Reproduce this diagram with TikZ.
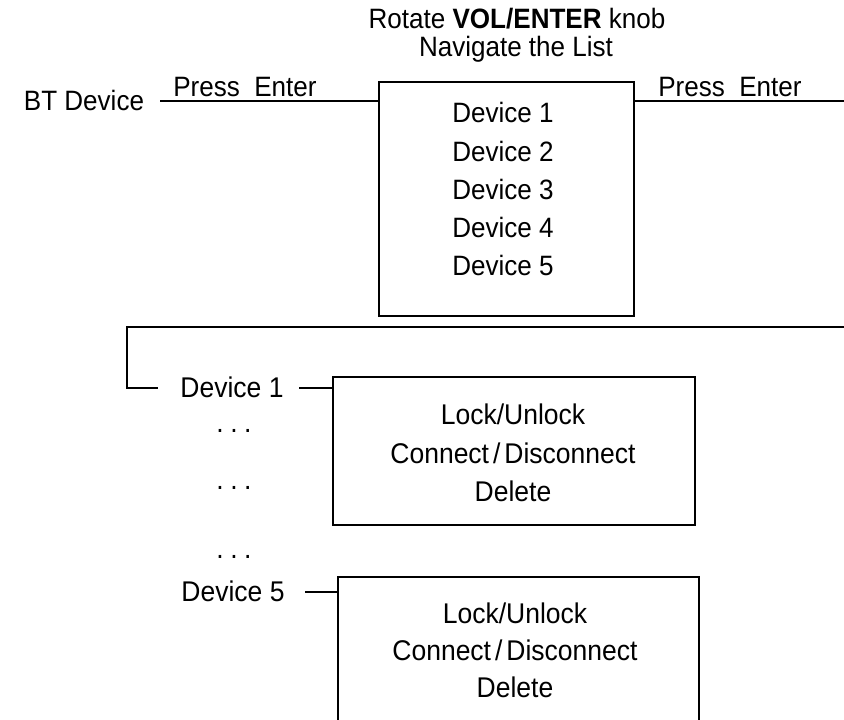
\documentclass[tikz,border=0pt]{standalone}
\usepackage{fontspec}
\setmainfont{Liberation Sans}
\newfontfamily\narrowsans[FakeStretch=0.93]{Liberation Sans}
\begin{document}
\begin{tikzpicture}[x=1pt,y=-1pt,
  txt/.style={anchor=base,inner sep=0pt,font=\narrowsans\fontsize{28}{32}\selectfont},
  ltxt/.style={anchor=base,inner sep=0pt,font=\narrowsans\fontsize{28.5}{32}\selectfont},
  boxstyle/.style={draw,line width=1.8pt,inner sep=0pt,anchor=north west},
  conn/.style={line width=1.8pt}]
\useasboundingbox (0,0) rectangle (844,720);
\clip (0,0) rectangle (844,720);
% header
\node[txt] (rot) at (517,28) {Rotate \textbf{VOL/ENTER} knob};
\node[txt] (nav) at (516,56) {Navigate the List};
\node[txt] (bt) at (84,110) {BT Device};
\node[txt] (pe1) at (245,96) {Press\ \ Enter};
\node[txt] (pe2) at (730,96) {Press\ \ Enter};
% main list box
\node[boxstyle,minimum width=255pt,minimum height=234pt] (box1) at (378,81) {};
\node[txt] (d1) at (503,122) {Device 1};
\node[txt] (d2) at (503,161) {Device 2};
\node[txt] (d3) at (503,199) {Device 3};
\node[txt] (d4) at (503,237) {Device 4};
\node[txt] (d5) at (503,275) {Device 5};
\coordinate (btl) at (160,101);
\coordinate (rend) at (846,101);
\draw[conn] (btl) -- (btl -| box1.west);
\draw[conn] (rend -| box1.east) -- (rend);
% lower part
\coordinate (r2) at (846,327);
\coordinate (c2) at (127,327);
\coordinate (c3) at (127,388);
\coordinate (c4) at (158,388);
\draw[conn] (r2) -- (c2) -- (c3) -- (c4);
\node[ltxt] (dl1) at (232,397) {Device 1};
\node[boxstyle,minimum width=362pt,minimum height=148pt] (box2) at (332,376) {};
\coordinate (l1) at (299,388);
\draw[conn] (l1) -- (l1 -| box2.west);
\node[ltxt] (b2a) at (513,424) {Lock/Unlock};
\node[ltxt] (b2b) at (513,463) {Connect{\kern4pt}/{\kern4pt}Disconnect};
\node[ltxt] (b2c) at (513,501) {Delete};
\node[ltxt] (dot1) at (234,432) {.\kern6.5pt.\kern6.5pt.};
\node[ltxt] (dot2) at (234,489) {.\kern6.5pt.\kern6.5pt.};
\node[ltxt] (dot3) at (234,558) {.\kern6.5pt.\kern6.5pt.};
\node[ltxt] (dl5) at (233,601) {Device 5};
\node[boxstyle,minimum width=361pt,minimum height=170pt] (box3) at (337,576) {};
\coordinate (l5) at (305,592);
\draw[conn] (l5) -- (l5 -| box3.west);
\node[ltxt] (b3a) at (515,623) {Lock/Unlock};
\node[ltxt] (b3b) at (515,660) {Connect{\kern4pt}/{\kern4pt}Disconnect};
\node[ltxt] (b3c) at (515,697) {Delete};
\end{tikzpicture}
\end{document}
